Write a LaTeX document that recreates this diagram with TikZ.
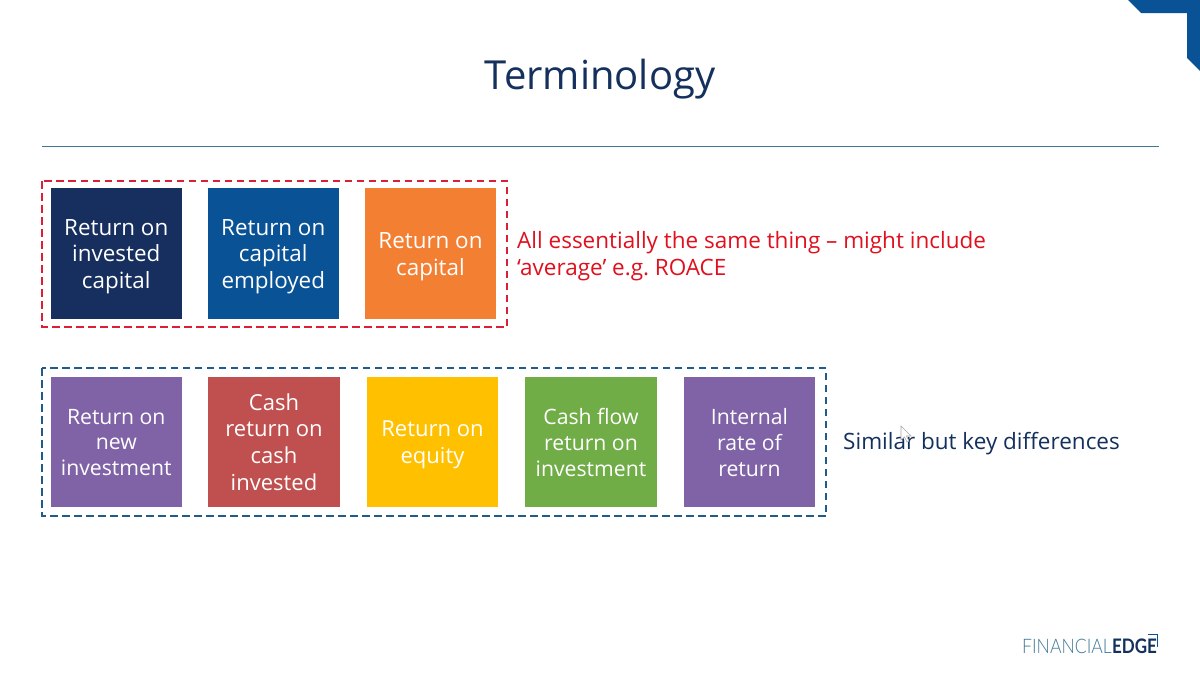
\documentclass[tikz,border=0pt]{standalone}
\usepackage{fontspec}
\setmainfont{Open Sans}
\newfontfamily\logofont{Lato}
\newfontfamily\logolight{Lato Light}
\definecolor{navy}{HTML}{172F5F}
\definecolor{midblue}{HTML}{0A5296}
\definecolor{orangeb}{HTML}{F37F33}
\definecolor{purpleb}{HTML}{8062A6}
\definecolor{redb}{HTML}{C0504F}
\definecolor{yellowb}{HTML}{FFC000}
\definecolor{greenb}{HTML}{70AD47}
\definecolor{titlec}{HTML}{14305C}
\definecolor{redt}{HTML}{E0101E}
\definecolor{rulec}{HTML}{3F7896}
\definecolor{dashred}{HTML}{DB1F35}
\definecolor{dashblue}{HTML}{1F5C8C}
\tikzset{
 tile/.style={draw=none,inner sep=0pt,minimum width=131.5pt,minimum height=131pt},
 tilelow/.style={tile,minimum height=130pt},
 tiletext/.style={inner sep=0pt,text=white,align=center},
 big/.style={font=\fontsize{22.4}{26.5}\selectfont},
 mid/.style={font=\fontsize{22}{26.7}\selectfont},
 small/.style={font=\fontsize{21.2}{25.8}\selectfont},
 groupbox/.style={line width=2pt,dash pattern=on 7.5pt off 4.5pt},
 note/.style={anchor=west,align=left,inner sep=0pt,font=\fontsize{22.5}{27}\selectfont}
}
\frenchspacing
\begin{document}
\begin{tikzpicture}[x=1pt,y=-1pt]
\useasboundingbox (0,0) rectangle (1200,675);
\fill[white] (0,0) rectangle (1200,675);
% corner
\fill[midblue] (1128,0) -- (1200,0) -- (1200,71) -- (1187,58) -- (1187,13) -- (1141,13) -- cycle;
\node[anchor=center,inner sep=0pt,text=titlec,font=\fontsize{40}{48}\selectfont] (title) at (600,79.5) {Terminology};
\coordinate (ruleL) at (42,146);
\coordinate (ruleR) at (1159,146);
\draw[rulec,line width=1pt] (ruleL) -- (ruleR);
% group boxes
\draw[groupbox,dashred] (42,181) rectangle (507,327);
\draw[groupbox,dashblue] (42,368) rectangle (826,516);
% tiles
\node[tile,fill=navy] (a) at (116.25,253.5) {};
\node[tile,fill=midblue] (b) at (273.25,253.5) {};
\node[tile,fill=orangeb] (c) at (430.5,253.5) {};
\node[tilelow,fill=purpleb] (d) at (116.25,442) {};
\node[tilelow,fill=redb] (e) at (274,442) {};
\node[tilelow,fill=yellowb] (f) at (432.5,442) {};
\node[tilelow,fill=greenb] (g) at (591,442) {};
\node[tilelow,fill=purpleb] (h) at (749.5,442) {};
\node[tiletext,big,yshift=-3pt] (at) at (a) {Return on\\invested\\capital};
\node[tiletext,big,yshift=-3pt] (bt) at (b) {Return on\\capital\\employed};
\node[tiletext,big,yshift=-3pt] (ct) at (c) {Return on\\capital};
\node[tiletext,small,yshift=-.5pt] (dt) at (d) {Return on\\new\\investment};
\node[tiletext,mid] (et) at (e) {Cash\\return on\\cash\\invested};
\node[tiletext,mid,yshift=-3pt] (ft) at (f) {Return on\\equity};
\node[tiletext,small,yshift=-.5pt] (gt) at (g) {Cash flow\\return on\\investment};
\node[tiletext,small,yshift=-.5pt] (ht) at (h) {Internal\\rate of\\return};
% notes
\node[note,text=redt] (n1) at (517,256.5) {All essentially the same thing -- might include\\`average' e.g. ROACE};
\node[note,text=titlec] (n2) at (843,443.5) {Similar but key differences};
% cursor
\draw[gray!70,fill=white,line width=.6pt] (901,426) -- (901,440) -- (904.5,437) -- (907,442) -- (909,441) -- (906.5,436) -- (911,436) -- cycle;
% logo
\node[anchor=west,inner sep=0pt,text=rulec,font=\logolight\fontsize{20}{24}\selectfont] (logo1) at (1022,646) {\scalebox{.88}[1]{FINANCIAL}};
\node[anchor=west,inner sep=0pt,text=titlec,font=\logofont\bfseries\fontsize{20}{24}\selectfont] (logo2) at (logo1.east) {\scalebox{.85}[1]{EDGE}};
\draw[midblue,line width=1.3pt] (1148,634.5) -- (1157.5,634.5) -- (1157.5,647);
\end{tikzpicture}
\end{document}
